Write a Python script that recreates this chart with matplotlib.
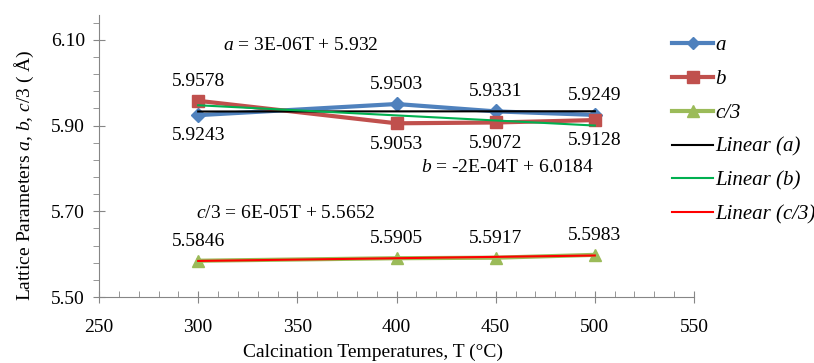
import matplotlib.pyplot as plt
import numpy as np

# data
temps = [300, 400, 450, 500]
a_vals = [5.9243, 5.9503, 5.9331, 5.9249]
b_vals = [5.9578, 5.9053, 5.9072, 5.9128]
c_vals = [5.5846, 5.5905, 5.5917, 5.5983]
a_pos = ['below', 'above', 'above', 'above']
b_pos = ['above', 'below', 'below', 'below']
c_pos = ['above', 'above', 'above', 'above']

plt.rcParams['font.family'] = 'Liberation Serif'
plt.rcParams['mathtext.fontset'] = 'custom'
plt.rcParams['mathtext.rm'] = 'Liberation Serif'
plt.rcParams['mathtext.it'] = 'Liberation Serif:italic'

FS = 14

fig = plt.figure(figsize=(8.14, 3.63), dpi=100)
ax = fig.add_axes([99/814, 1 - 297/363, (694 - 99)/814, (297 - 15)/363])

x = np.array(temps)
#series lines
ax.plot(x, a_vals, color='#4F81BD', lw=3, marker='D', ms=7, label='a', zorder=3)
ax.plot(x, b_vals, color='#C0504D', lw=3, marker='s', ms=9, label='b', zorder=3)
ax.plot(x, c_vals, color='#9BBB59', lw=3, marker='^', ms=9, label='c/3', zorder=3)

#linear trendlines
for vals, col, name in [(a_vals, 'black', 'Linear (a)'),
                        (b_vals, '#00B050', 'Linear (b)'),
                        (c_vals, '#FF0000', 'Linear (c/3)')]:
    k, m = np.polyfit(x, vals, 1)
    ax.plot(x, k*x + m, color=col, lw=1.5, label=name, zorder=4)

#data labels
for vals, pos in [(a_vals, a_pos), (b_vals, b_pos), (c_vals, c_pos)]:
    for t, v, p in zip(temps, vals, pos):
        dy = 14 if p == 'above' else -15
        ax.annotate('%.4f' % v, (t, v), xytext=(0, dy), textcoords='offset points',
                    ha='center', va='center', fontsize=FS)

#equations
ax.text(352, 6.086, r'$a$ = 3E-06T + 5.932', ha='center', va='center', fontsize=FS)
ax.text(456, 5.803, r'$b$ = -2E-04T + 6.0184', ha='center', va='center', fontsize=FS)
ax.text(344, 5.696, r'$c/3$ = 6E-05T + 5.5652', ha='center', va='center', fontsize=FS)

ax.set_xlim(250, 550)
ax.set_ylim(5.50, 6.158)
ax.set_xticks(np.arange(250, 551, 50))
ax.set_xticks(np.arange(250, 551, 10), minor=True)
ax.set_yticks([5.50, 5.70, 5.90, 6.10])
ax.set_yticks(np.arange(5.50, 6.16, 0.04), minor=True)
ax.set_yticklabels(['5.50', '5.70', '5.90', '6.10'])
ax.tick_params(axis='both', which='major', labelsize=FS, color='#868686', length=8, direction='inout')
ax.tick_params(axis='x', which='minor', direction='in', length=4, color='#868686')
ax.tick_params(axis='y', which='minor', direction='out', length=4, color='#868686')
ax.tick_params(axis='x', pad=12)
ax.tick_params(axis='y', pad=6)
for s in ['top', 'right']:
    ax.spines[s].set_visible(False)
for s in ['left', 'bottom']:
    ax.spines[s].set_color('#868686')

ax.set_xlabel('Calcination Temperatures, T (°C)', fontsize=FS, va='center')
ax.xaxis.set_label_coords(0.46, -0.197)
ax.set_ylabel(r'Lattice Parameters $a$, $b$, $c/3$ ( Å)', fontsize=FS, va='center')
ax.yaxis.set_label_coords(-(99 - 24)/595, 0.43)

leg = ax.legend(loc='upper left', bbox_to_anchor=(664/814, 1 - 27/363), bbox_transform=fig.transFigure,
                frameon=False, prop={'style': 'italic', 'size': 15}, handlelength=1.95,
                handletextpad=0.1, labelspacing=0.69, markerscale=0.9, borderaxespad=0)

fig.savefig('out.png', dpi=100)
